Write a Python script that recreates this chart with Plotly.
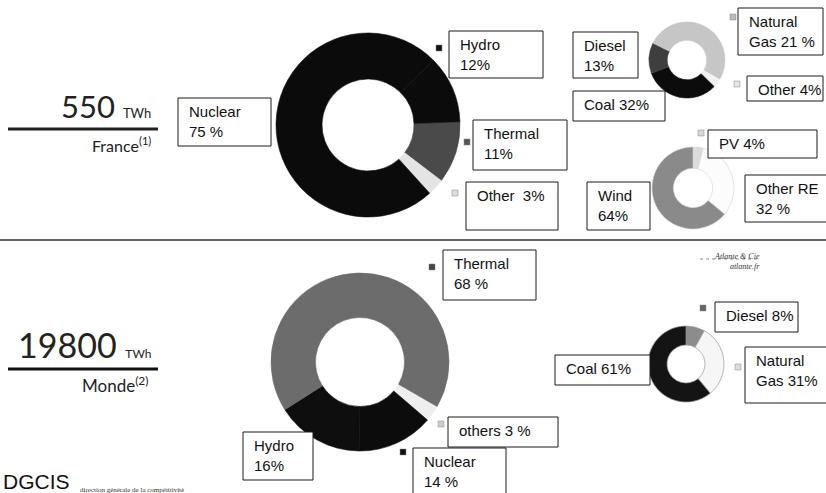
import plotly.graph_objects as go

W, H = 826, 493

# ---- France ----------------------------------------------------------
france_total = "550"
france_unit = "TWh"
france_name = "France<sup>(1)</sup>"

fr_mix_labels = ["Thermal", "Other", "Nuclear", "Hydro"]
fr_mix_values = [11, 3, 75, 12]
fr_mix_colors = ["#4a4a4a", "#e4e4e4", "#0b0b0b", "#0b0b0b"]

# thermal split (one unlabelled share drawn in the natural-gas tone)
fr_fossil_labels = ["Other", "Coal", "Diesel", "(n/a)", "Natural Gas"]
fr_fossil_values = [4, 32, 13, 30, 21]
fr_fossil_colors = ["#f2f2f2", "#0c0c0c", "#3e3e3e", "#c6c6c6", "#c6c6c6"]

fr_re_labels = ["PV", "Other RE", "Wind"]
fr_re_values = [4, 32, 64]
fr_re_colors = ["#dcdcdc", "#fcfcfc", "#8a8a8a"]

# ---- Monde -----------------------------------------------------------
world_total = "19800"
world_unit = "TWh"
world_name = "Monde<sup>(2)</sup>"

wd_mix_labels = ["others", "Nuclear", "Hydro", "Thermal"]
wd_mix_values = [3, 14, 16, 68]
wd_mix_colors = ["#eeeeee", "#0c0c0c", "#0e0e0e", "#6c6c6c"]

wd_fossil_labels = ["Diesel", "Natural Gas", "Coal"]
wd_fossil_values = [8, 31, 61]
wd_fossil_colors = ["#8c8c8c", "#f6f6f6", "#141414"]


def fx(x):
    return x / W


def fy(y):
    return 1 - y / H


def dom(cx, cy, r):
    return dict(x=[fx(cx - r), fx(cx + r)], y=[fy(cy + r), fy(cy - r)])


fig = go.Figure()


def donut(labels, values, colors, cx, cy, r, hole, rotation, line_color=None, line_w=0.6):
    # outline each slice in its own colour unless a visible outline is wanted
    fig.add_trace(go.Pie(
        labels=labels, values=values, sort=False, direction="clockwise",
        rotation=rotation, hole=hole, domain=dom(cx, cy, r),
        marker=dict(colors=colors,
                    line=dict(color=line_color if line_color else colors, width=line_w)),
        textinfo="none", hoverinfo="label+value", showlegend=False,
    ))


donut(fr_mix_labels, fr_mix_values, fr_mix_colors, 368, 125, 92, 0.5, 88)
donut(fr_fossil_labels, fr_fossil_values, fr_fossil_colors, 687, 60, 38, 0.52, 120)
donut(fr_re_labels, fr_re_values, fr_re_colors, 693, 188, 41, 0.48, 0,
      line_color="#d4d4d4", line_w=0.6)
donut(wd_mix_labels, wd_mix_values, wd_mix_colors, 360, 362, 89, 0.5, 120)
donut(wd_fossil_labels, wd_fossil_values, wd_fossil_colors, 686, 364, 38, 0.5, 0,
      line_color="#9a9a9a", line_w=0.7)

shapes = []
annotations = []

# labelled boxes: (x0, y0, x1, y1, text)
boxes = [
    (178, 98, 271, 146, "Nuclear<br>75 %"),
    (449, 31, 543, 78, "Hydro<br>12%"),
    (473, 120, 567, 170, "Thermal<br>11%"),
    (466, 182, 558, 230, "Other\u00a0 3%"),
    (573, 32, 638, 78, "Diesel<br>13%"),
    (573, 91, 665, 121, "Coal 32%"),
    (738, 8, 823, 55, "Natural<br>Gas 21 %"),
    (747, 76, 823, 101, "Other 4%"),
    (708, 130, 817, 158, "PV 4%"),
    (745, 175, 830, 222, "Other RE<br>32 %"),
    (587, 182, 650, 230, "Wind<br>64%"),
    (443, 250, 536, 300, "Thermal<br>68 %"),
    (448, 417, 558, 447, "others 3 %"),
    (243, 432, 313, 480, "Hydro<br>16%"),
    (413, 448, 506, 500, "Nuclear<br>14 %"),
    (555, 355, 650, 385, "Coal 61%"),
    (715, 302, 798, 332, "Diesel 8%"),
    (745, 347, 830, 403, "Natural<br>Gas 31%"),
]

for x0, y0, x1, y1, txt in boxes:
    shapes.append(dict(type="rect", xref="paper", yref="paper",
                       x0=fx(x0), x1=fx(x1), y0=fy(y1), y1=fy(y0),
                       line=dict(color="#1a1a1a", width=1), fillcolor="white"))
    annotations.append(dict(xref="paper", yref="paper", x=fx(x0 + 9), y=fy(y0 + 3),
                            xanchor="left", yanchor="top", align="left", showarrow=False,
                            text=txt, font=dict(family="Liberation Sans", size=15, color="#111")))

# small key squares next to the boxes: (x, y, colour)
keys = [
    (439, 48, "#111111"), (467, 142, "#555555"), (455, 193, "#dddddd"),
    (733, 17, "#bbbbbb"), (737, 84, "#e4e4e4"), (701, 133, "#d8d8d8"),
    (432, 267, "#444444"), (441, 424, "#cccccc"), (403, 452, "#111111"),
    (703, 308, "#666666"), (738, 367, "#dddddd"),
]
for kx, ky, kc in keys:
    shapes.append(dict(type="rect", xref="paper", yref="paper",
                       x0=fx(kx - 3), x1=fx(kx + 3), y0=fy(ky + 3), y1=fy(ky - 3),
                       line=dict(color="#888888", width=0.5), fillcolor=kc))

# rules under the totals and between the two panels
shapes.append(dict(type="line", xref="paper", yref="paper", x0=fx(8), x1=fx(158),
                   y0=fy(129), y1=fy(129), line=dict(color="#222", width=3)))
shapes.append(dict(type="line", xref="paper", yref="paper", x0=fx(8), x1=fx(158),
                   y0=fy(369), y1=fy(369), line=dict(color="#111", width=3)))
shapes.append(dict(type="line", xref="paper", yref="paper", x0=fx(0), x1=fx(826),
                   y0=fy(240), y1=fy(240), line=dict(color="#333", width=1.5)))
# leader / underline of the source credit
shapes.append(dict(type="line", xref="paper", yref="paper", x0=fx(700), x1=fx(758),
                   y0=fy(259), y1=fy(259), line=dict(color="#444", width=0.6, dash="dot")))

big_font = dict(family="Lato", color="#222")
annotations += [
    dict(xref="paper", yref="paper", x=fx(153), y=fy(127), xanchor="right", yanchor="bottom",
         showarrow=False,
         text=f"{france_total} <span style='font-size:13px'>{france_unit}</span>",
         font=dict(big_font, size=31)),
    dict(xref="paper", yref="paper", x=fx(153), y=fy(132), xanchor="right", yanchor="top",
         showarrow=False, text=france_name, font=dict(big_font, size=16)),
    dict(xref="paper", yref="paper", x=fx(153), y=fy(367), xanchor="right", yanchor="bottom",
         showarrow=False,
         text=f"{world_total} <span style='font-size:12px'>{world_unit}</span>",
         font=dict(big_font, size=34)),
    dict(xref="paper", yref="paper", x=fx(150), y=fy(371), xanchor="right", yanchor="top",
         showarrow=False, text=world_name, font=dict(big_font, size=17)),
    # source credit
    dict(xref="paper", yref="paper", x=fx(762), y=fy(250), xanchor="right", yanchor="top",
         showarrow=False, align="right",
         text="<i>Atlante &amp; Cie</i><br><i>atlante.fr</i>",
         font=dict(family="Liberation Serif", size=8, color="#333")),
    # ministry logo
    dict(xref="paper", yref="paper", x=fx(1), y=fy(468), xanchor="left", yanchor="top",
         showarrow=False, text="DGCIS", font=dict(family="Liberation Sans", size=21, color="#111")),
    dict(xref="paper", yref="paper", x=fx(78), y=fy(484), xanchor="left", yanchor="top",
         showarrow=False, text="direction générale de la compétitivité",
         font=dict(family="Liberation Serif", size=7, color="#333")),
]

fig.update_layout(
    width=W, height=H, margin=dict(l=0, r=0, t=0, b=0),
    paper_bgcolor="white", plot_bgcolor="white",
    shapes=shapes, annotations=annotations,
)

fig.write_html("out.html")
